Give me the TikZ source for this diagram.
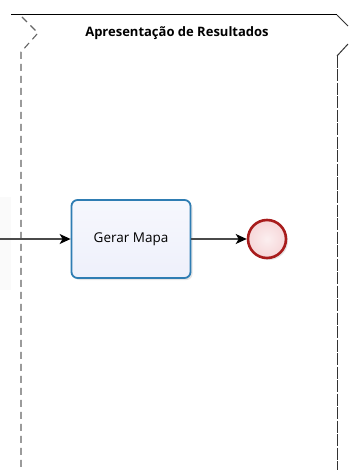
\documentclass[tikz,border=0pt]{standalone}
\usepackage{fontspec}
\setmainfont{Open Sans}
\usetikzlibrary{arrows.meta,shadows}
\definecolor{taskblue}{HTML}{2F7DB3}
\definecolor{taskfill}{HTML}{EEF0FB}
\definecolor{endred}{HTML}{A81C1C}
\definecolor{endfill}{HTML}{F6D6D8}
\definecolor{flowgray}{HTML}{4A4A4A}
\tikzset{
  x=1pt, y=-1pt,
  lanedash/.style={draw=gray!80!black, dash pattern=on 7pt off 5pt, line width=1.1pt},
  laneright/.style={draw=gray!40!black, dash pattern=on 12pt off 1.5pt, line width=1pt},
  tasknode/.style={draw=taskblue, line width=1.8pt, rounded corners=6pt, minimum width=119pt, minimum height=78pt,
    top color=taskfill!50!white, bottom color=taskfill, font=\fontsize{13.5}{15}\selectfont,
    drop shadow={shadow xshift=2pt, shadow yshift=-2pt, opacity=0.2}},
  endnode/.style={circle, draw=endred, line width=2.6pt, minimum size=38pt, inner sep=0pt,
    inner color=endfill!40!white, outer color=endfill,
    drop shadow={shadow xshift=2pt, shadow yshift=-2pt, opacity=0.2}},
  flow/.style={draw=flowgray, line width=1.4pt, -{Stealth[length=11pt,width=10pt,inset=3pt,black]}},
}
\begin{document}
\begin{tikzpicture}
\useasboundingbox (0,0) rectangle (348,470);
\fill[white] (0,0) rectangle (348,470);
% faint shade at left
\fill[gray!4] (0,197) rectangle (11,290);
% lane header
\draw[black, line width=1pt] (11,15) -- (337,15);
\draw[lanedash] (22,17) -- (38,33) -- (21,52) -- (21,470);
\draw[gray!40!black, line width=1pt] (337,15) -- (348,26);
\draw[gray!40!black, line width=1pt] (348,44) -- (337,56);
\draw[laneright] (337,56) -- (337,470);
\node[font=\bfseries\fontsize{13}{15}\selectfont] (title) at (177,33) {Apresentação de Resultados};
% elements
\coordinate (in) at (0,239);
\node[tasknode] (task) at (131,239) {Gerar Mapa};
\node[endnode] (end) at (267,239) {};
\draw[flow] (in) -- (task.west);
\draw[flow] (task.east) -- (end.west);
\end{tikzpicture}
\end{document}
